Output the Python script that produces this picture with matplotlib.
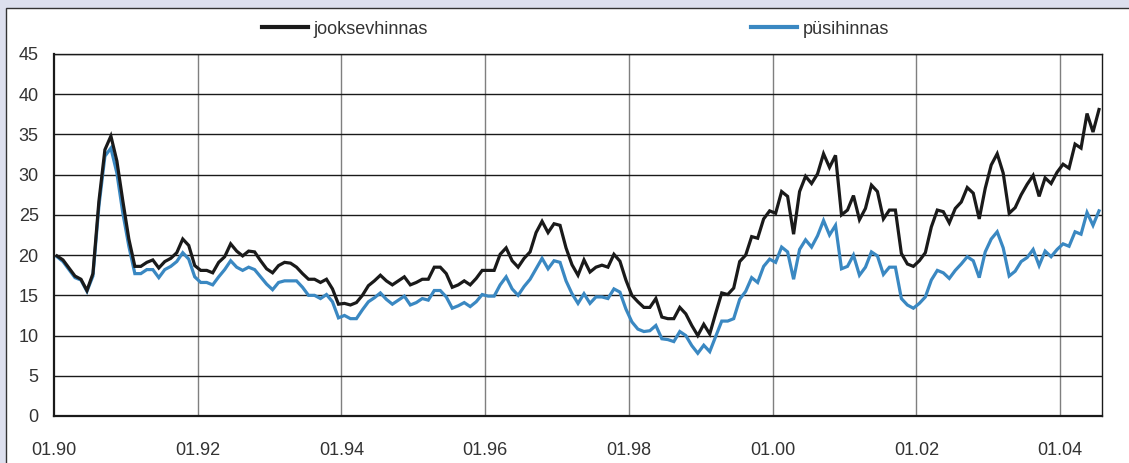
import matplotlib
matplotlib.use("Agg")
import matplotlib.pyplot as plt
from matplotlib.patches import Rectangle
import numpy as np

plt.rcParams['font.family'] = ['Liberation Sans', 'DejaVu Sans']

# Monthly values, 01.1990 .. 07.2004
jooksevhinnas = [
    19.9, 19.4, 18.4, 17.4, 17.0, 15.6, 17.7, 26.7, 33.1, 34.8, 31.7, 26.7,
    22.0, 18.6, 18.6, 19.1, 19.4, 18.4, 19.2, 19.6, 20.3, 22.0,
    21.2, 18.7, 18.1, 18.1, 17.8, 19.1, 19.8, 21.4, 20.5, 19.9, 20.5, 20.4,
    19.3, 18.3, 17.8, 18.7, 19.1, 19.0, 18.5, 17.7, 17.0, 17.0,
    16.6, 17.0, 15.8, 13.9, 14.0, 13.8, 14.1, 15.0, 16.2, 16.8, 17.5, 16.8,
    16.3, 16.8, 17.3, 16.3, 16.6, 17.0, 17.0, 18.5, 18.5,
    17.7, 16.0, 16.3, 16.8, 16.3, 17.1, 18.1, 18.1, 18.1, 20.1, 20.9, 19.3,
    18.5, 19.6, 20.4, 22.8, 24.2, 22.8, 23.9, 23.7, 20.9, 18.8,
    17.5, 19.4, 17.9, 18.5, 18.75, 18.5, 20.1, 19.25, 16.9, 15.0, 14.2, 13.5,
    13.5, 14.6, 12.3, 12.1, 12.1, 13.5, 12.7, 11.25, 10.0, 11.4,
    10.2, 12.8, 15.3, 15.1, 15.9, 19.2, 20.0, 22.3, 22.1, 24.5, 25.5, 25.2,
    27.9, 27.3, 22.6, 27.9, 29.8, 28.9, 30.1, 32.6, 30.9,
    32.4, 25.0, 25.6, 27.4, 24.4, 25.8, 28.7, 27.9, 24.5, 25.6, 25.6, 20.2,
    18.9, 18.6, 19.3, 20.3, 23.5, 25.6, 25.4, 24.0, 25.8, 26.6,
    28.4, 27.7, 24.5, 28.3, 31.2, 32.6, 30.2, 25.2, 25.9, 27.5, 28.8, 29.9,
    27.3, 29.6, 28.9, 30.3, 31.3, 30.8, 33.8, 33.3, 37.6, 35.3, 38.1,
]
pusihinnas = [
    19.8, 19.2, 18.2, 17.2, 16.9, 15.5, 17.4, 26.1, 32.3, 33.3, 30.2, 25.2,
    21.1, 17.7, 17.7, 18.2, 18.2, 17.2, 18.2, 18.6, 19.2, 20.3,
    19.5, 17.3, 16.6, 16.6, 16.3, 17.3, 18.2, 19.3, 18.5, 18.1, 18.5, 18.2,
    17.3, 16.4, 15.7, 16.6, 16.8, 16.8, 16.8, 16.0, 15.0, 15.0,
    14.6, 15.1, 14.2, 12.2, 12.5, 12.1, 12.1, 13.2, 14.2, 14.7, 15.3, 14.5,
    13.9, 14.4, 14.9, 13.8, 14.1, 14.6, 14.4, 15.6, 15.6,
    14.8, 13.4, 13.7, 14.1, 13.6, 14.2, 15.1, 14.9, 14.9, 16.3, 17.3, 15.8,
    15.0, 16.1, 17.0, 18.3, 19.6, 18.3, 19.3, 19.1, 16.8, 15.2,
    14.0, 15.2, 14.0, 14.8, 14.8, 14.6, 15.8, 15.4, 13.3, 11.7, 10.8, 10.5,
    10.6, 11.25, 9.6, 9.5, 9.25, 10.5, 10.0, 8.75, 7.8, 8.8,
    8.0, 9.9, 11.8, 11.8, 12.1, 14.5, 15.5, 17.2, 16.6, 18.6, 19.5, 19.1,
    21.0, 20.4, 17.0, 20.7, 21.9, 21.0, 22.4, 24.3, 22.5,
    23.7, 18.3, 18.6, 20.0, 17.5, 18.5, 20.4, 19.9, 17.6, 18.5, 18.5, 14.6,
    13.8, 13.4, 14.0, 14.8, 16.9, 18.1, 17.8, 17.1, 18.1, 18.9,
    19.8, 19.3, 17.2, 20.4, 22.0, 22.9, 20.9, 17.4, 18.0, 19.2, 19.7, 20.7,
    18.7, 20.5, 19.8, 20.7, 21.4, 21.1, 22.9, 22.6, 25.3, 23.7, 25.5,
]
tick_labels = ["01.90", "01.92", "01.94", "01.96", "01.98", "01.00", "01.02", "01.04"]
series_names = ["jooksevhinnas", "püsihinnas"]

W, H = 1129, 463
fig = plt.figure(figsize=(W / 100, H / 100), dpi=100)
fig.patch.set_facecolor("#dde0ee")

# white inner panel
fig.add_artist(Rectangle((6 / W, -0.2), 1.2, 1 - 8 / H + 0.2, transform=fig.transFigure,
                         facecolor="white", edgecolor="#333333", linewidth=1.0, zorder=0))

ax = fig.add_axes([54 / W, (H - 416) / H, (1102 - 54) / W, (416 - 54) / H])
ax.set_facecolor("white")

x = np.arange(len(jooksevhinnas))
ax.plot(x, jooksevhinnas, color="#1a1a1a", lw=2.3, label=series_names[0], zorder=3,
        solid_joinstyle="miter")
ax.plot(x, pusihinnas, color="#3a88c2", lw=2.3, label=series_names[1], zorder=2,
        solid_joinstyle="miter")

ax.set_xlim(-0.5, len(x) - 0.5)
ax.set_ylim(0, 45)
ticks = [i * 24 - 0.5 for i in range(len(tick_labels))]
ax.set_xticks(ticks)
ax.set_xticklabels(tick_labels)
ax.set_yticks(np.arange(0, 46, 5))

for t in ticks[1:]:
    ax.axvline(t, color="#7f7f7f", lw=1.0, zorder=1)
for yv in range(5, 46, 5):
    ax.axhline(yv, color="#1a1a1a", lw=1.0, zorder=1)

for s in ax.spines.values():
    s.set_color("#1a1a1a")
    s.set_linewidth(1.0)
ax.spines["left"].set_linewidth(1.6)
ax.spines["bottom"].set_linewidth(1.6)

ax.tick_params(axis="both", length=0, labelsize=13, colors="#333333")
ax.tick_params(axis="y", pad=11)
ax.tick_params(axis="x", pad=18.5)

leg = fig.legend(loc="center left", bbox_to_anchor=(262 / W, 1 - 29 / H), ncol=2,
                 frameon=False, fontsize=13, handlelength=2.55, handletextpad=0.3,
                 columnspacing=17.9, borderpad=0, borderaxespad=0)
for line in leg.get_lines():
    line.set_linewidth(3.0)
for txt in leg.get_texts():
    txt.set_color("#333333")

fig.savefig("out.png", dpi=100, facecolor=fig.get_facecolor())
